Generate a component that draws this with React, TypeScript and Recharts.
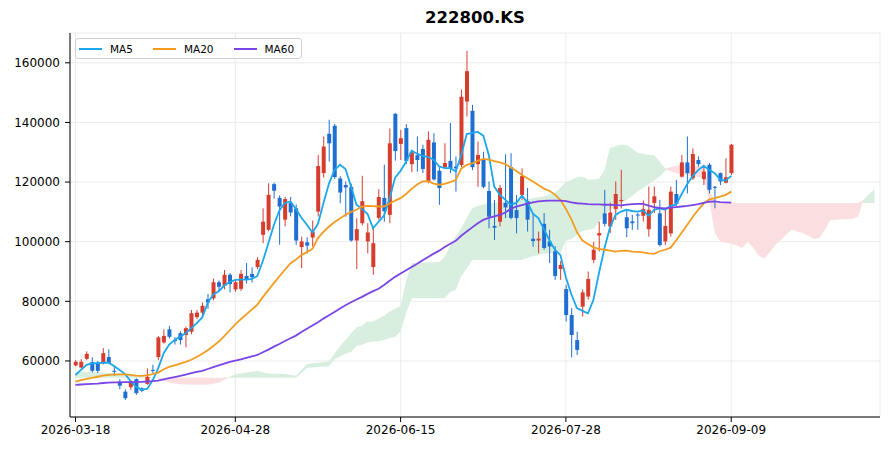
import React from 'react';
import { ComposedChart, Area, Bar, Line, XAxis, YAxis, CartesianGrid } from 'recharts';

const dateLabels = ['2026-03-18', '2026-04-28', '2026-06-15', '2026-07-28', '2026-09-09'];
const dateTickIdx = [0, 29, 59, 89, 119];
const priceTicks = [60000, 80000, 100000, 120000, 140000, 160000];

const opens = [
  58500, 57800, 60700, 59600, 59400, 59200, 61300, 56700, 53100, 49700,
  51200, 53900, 50800, 52300, 57000, 61300, 66200, 70600, 67000, 69300,
  68700, 69800, 74700, 76200, 80700, 81000, 86400, 85200, 88900, 84000,
  84200, 88500, 89200, 91500, 102300, 104000, 119300, 114700, 107400, 113000,
  111200, 98200, 99800, 101400, 110100, 123000, 136200, 138900, 121200, 119000,
  118400, 100400, 106200, 100100, 91500, 108000, 114700, 109000, 142900, 132800,
  138100, 126000, 129000, 131100, 120200, 133300, 123800, 125000, 127100, 125200,
  125700, 147000, 143900, 126000, 127400, 117000, 105300, 106700, 113000, 125000,
  110600, 115700, 113600, 101000, 100400, 106000, 100100, 96800, 90800, 84100,
  75400, 67000, 78200, 81600, 93900, 102100, 109500, 105100, 110900, 113600,
  108200, 106800, 109100, 108700, 104200, 113000, 109500, 100100, 102800, 116000,
  121800, 126600, 121300, 127400, 121000, 125800, 118400, 123000, 119800, 123000,
];
const highs = [
  60300, 60600, 63200, 61200, 60000, 64300, 63900, 58100, 53900, 50500,
  53500, 54200, 51200, 57500, 58700, 68400, 70600, 71700, 68000, 70000,
  71500, 77100, 77100, 79600, 82500, 87600, 87000, 90500, 89500, 87400,
  90500, 92800, 91400, 94800, 111200, 119600, 119800, 115500, 115000, 115000,
  112500, 101700, 101500, 107100, 129100, 135300, 140900, 139500, 122000, 120200,
  119500, 107900, 122100, 106200, 105100, 117600, 125800, 138000, 143100, 137500,
  139400, 130800, 135300, 132500, 137000, 136400, 125000, 133000, 139800, 128600,
  151000, 164000, 145900, 133600, 130200, 120200, 114000, 119000, 129300, 129700,
  115700, 124600, 118000, 109600, 103400, 109600, 104000, 98500, 93500, 85500,
  77700, 69800, 84000, 90000, 100000, 106700, 117400, 113100, 120200, 124100,
  110700, 109000, 109600, 113800, 118500, 118500, 114000, 111200, 118500, 120700,
  129100, 135300, 131300, 128600, 125800, 126400, 118700, 123200, 128000, 132800,
];
const lows = [
  58200, 57500, 60300, 56100, 56000, 58800, 59000, 55000, 50500, 46900,
  50300, 48600, 49500, 52000, 55900, 60300, 65800, 67500, 65500, 65500,
  64600, 69000, 74000, 74700, 77500, 80300, 83300, 84000, 83000, 83200,
  83500, 86000, 86300, 90800, 99500, 103500, 114500, 99000, 105100, 108500,
  98900, 91100, 96000, 98400, 108500, 121500, 126900, 121000, 112900, 108400,
  100000, 90800, 105500, 96100, 88900, 107300, 106700, 106200, 127200, 127400,
  126000, 123300, 123500, 123000, 119600, 120500, 112400, 124500, 123000, 116800,
  125000, 142000, 124000, 118400, 117900, 104500, 100600, 105100, 107900, 107500,
  102800, 114000, 103400, 98300, 96100, 97300, 92800, 87200, 87200, 73200,
  61200, 62000, 74900, 80600, 92800, 96700, 105100, 102900, 107300, 111200,
  101500, 104000, 104000, 106700, 101700, 109600, 98400, 98900, 101700, 112000,
  121500, 116200, 120700, 125200, 119000, 116200, 111200, 119000, 119600, 122400,
];
const closes = [
  59700, 59700, 62400, 56700, 56700, 62600, 59300, 56500, 51700, 47500,
  52700, 49200, 50000, 54700, 56800, 67900, 68400, 68100, 66600, 67000,
  71000, 76000, 76200, 78500, 79600, 86400, 84900, 88900, 85800, 86400,
  89200, 87200, 88100, 93900, 106700, 115700, 117100, 111800, 114300, 109800,
  100400, 100100, 98700, 103400, 125400, 131900, 133000, 121700, 116500, 118200,
  100400, 104200, 113600, 103100, 99500, 115000, 110200, 133000, 130400, 134700,
  127100, 130000, 127400, 124400, 134200, 120900, 118000, 126400, 124600, 124600,
  148600, 157200, 125000, 129100, 118400, 108400, 104700, 118000, 111500, 108000,
  107900, 122000, 107400, 100200, 101000, 97900, 98400, 88500, 92200, 75400,
  68700, 63700, 83000, 87500, 97300, 102900, 106000, 109800, 116000, 114000,
  104500, 106200, 109000, 111000, 110700, 115200, 98900, 105300, 116800, 112700,
  126600, 123000, 129400, 126000, 123500, 117400, 118200, 120200, 121600, 132500,
];

const ma5 = [
  55300, 57000, 58700, 59200, 59300, 59400, 59400, 58300, 57000, 55600,
  53200, 51300, 50400, 50600, 53500, 57500, 62600, 65500, 67000, 68200,
  69300, 71000, 72700, 74600, 79500, 82300, 83400, 85300, 86500, 87200,
  87300, 87300, 87500, 88500, 93500, 99500, 105600, 110500, 113000, 113500,
  111000, 108000, 105700, 103100, 106000, 113000, 119500, 124000, 125800, 124400,
  118500, 112400, 111000, 109300, 104500, 106700, 108800, 114500, 121500, 123800,
  126900, 130500, 129500, 128800, 128400, 127500, 125200, 124700, 124700, 123600,
  129000, 136100, 136500, 136800, 135600, 129100, 118500, 115800, 114000, 112400,
  113000, 115400, 113300, 109400, 107900, 104200, 100500, 97300, 95500, 88000,
  82300, 77700, 76800, 76000, 80500, 89500, 97800, 104800, 109000, 110100,
  110700, 110300, 110100, 110500, 108700, 110700, 111200, 110700, 112000, 112400,
  116000, 119300, 122000, 124000, 125400, 124100, 123000, 120800, 120500, 122100,
];
const ma20 = [
  53100, 53600, 54000, 54300, 54700, 55100, 55300, 55400, 55500, 55500,
  55300, 55100, 55000, 55200, 55600, 56100, 57200, 58000, 58500, 59100,
  59700, 60400, 61300, 62400, 63600, 65000, 66500, 68300, 70300, 72300,
  74000, 75600, 77200, 78900, 81400, 83800, 86100, 88400, 90600, 92700,
  94000, 95500, 96500, 97600, 101200, 103300, 105100, 106600, 107800, 109000,
  110000, 110700, 111800, 112000, 111900, 111800, 111800, 112800, 113800, 114600,
  116000, 117700, 119200, 120200, 120300, 119500, 119100, 119400, 120000, 120700,
  124500, 125800, 126300, 127100, 127800, 127500, 127000, 126600, 126000, 124900,
  123700, 122400, 121300, 120200, 119000, 117800, 117100, 115800, 114000, 111000,
  107500, 103200, 100400, 99200, 98100, 97600, 97300, 97000, 96700, 96900,
  97000, 96700, 96600, 96400, 96100, 95900, 96800, 97300, 98000, 100400,
  103000, 105600, 108300, 110700, 112800, 114200, 114600, 115100, 115700, 116800,
];
const ma60 = [
  52000, 52100, 52200, 52300, 52400, 52600, 52700, 52800, 52800, 52900,
  52900, 53000, 53000, 53100, 53200, 53400, 53800, 54200, 54600, 55000,
  55400, 55900, 56300, 56700, 57300, 57900, 58500, 59100, 59700, 60100,
  60500, 61000, 61500, 62000, 62900, 63800, 64800, 65700, 66700, 67600,
  68500, 69700, 70800, 71900, 73000, 74200, 75300, 76400, 77600, 78700,
  79700, 80600, 81500, 82500, 83400, 84200, 85500, 86900, 88200, 89300,
  90400, 91500, 92600, 93800, 94900, 96000, 97000, 98200, 99300, 100300,
  102000, 103400, 104800, 106200, 107300, 108000, 108500, 109000, 109800, 111000,
  111800, 112300, 112800, 113200, 113500, 113700, 113800, 113800, 113800, 113600,
  113200, 112900, 112800, 112600, 112500, 112500, 112400, 112400, 112300, 112200,
  112400, 112600, 112700, 112700, 112100, 111600, 111300, 111200, 111400, 111600,
  111800, 112000, 112300, 112600, 113000, 113400, 113500, 113300, 113200, 113100,
];

// leading span A / B, shifted 26 bars ahead of the last candle
const spanA = [
  56300, 56300, 56300, 56200, 56200, 56100, 56000, 55900, 55700, 55500,
  55300, 55100, 54900, 54700, 54500, 54200, 53400, 52800, 52400, 52200,
  52100, 52000, 52000, 52000, 52100, 52300, 52800, 53600, 54700, 55500,
  55800, 56100, 56400, 56600, 56200, 55800, 55700, 55700, 55600, 55400,
  55000, 57000, 59000, 59200, 59400, 59600, 59800, 62500, 65000, 67000,
  69200, 71300, 71800, 73200, 73200, 74200, 75200, 76500, 77500, 78500,
  87000, 92800, 92900, 93000, 93000, 93100, 93200, 95000, 98500, 101800,
  104500, 108000, 111200, 112000, 112500, 112800, 113000, 113200, 113400, 113500,
  113700, 114000, 114300, 114600, 114900, 115200, 115800, 116500, 118000, 120000,
  120800, 121500, 121900, 120800, 120900, 121100, 124000, 131500, 132000, 132500,
  132500, 131200, 129800, 129500, 129200, 129000, 127000, 124500, 123600, 123000,
  122600, 122300, 122000, 121700, 121400, 114000, 103000, 100000, 99700, 99300,
  98700, 97900, 100000, 98000, 95300, 94400, 96500, 98800, 100500, 102500,
  104000, 103400, 102900, 102000, 100900, 101200, 104000, 107300, 107400, 107500,
  107500, 107600, 108400, 114000, 116000, 117500,
];
const spanB = [
  54400, 54400, 54400, 54400, 54400, 54400, 54400, 54400, 54400, 54400,
  54400, 54400, 54400, 54400, 54400, 54400, 54400, 54400, 54400, 54400,
  54400, 54400, 54400, 54400, 54400, 54400, 54400, 54400, 54400, 54400,
  54400, 54400, 54400, 54400, 54400, 54400, 54400, 54400, 54400, 54400,
  54400, 56000, 57600, 57800, 58000, 58100, 58100, 60600, 61500, 62500,
  63000, 65000, 65400, 66200, 66500, 66600, 67000, 67700, 68000, 70000,
  76000, 81000, 81000, 81000, 81000, 81000, 81000, 81000, 83200, 83800,
  88500, 91000, 93900, 93900, 93900, 93900, 93900, 93900, 93900, 93900,
  93900, 93900, 94500, 95100, 95600, 96000, 96100, 96100, 96100, 100500,
  100800, 102300, 103500, 104000, 104300, 106500, 109000, 110700, 111800, 112700,
  114000, 115300, 116800, 118000, 119300, 120500, 121800, 123800, 125000, 125400,
  125600, 125400, 125400, 125400, 125400, 118000, 113000, 113000, 113000, 113000,
  113000, 113000, 113000, 113000, 113000, 113000, 113000, 113000, 113000, 113000,
  113000, 113000, 113000, 113000, 113000, 113000, 113000, 113000, 113000, 113000,
  113000, 113000, 113000, 113000, 113000, 113000,
];

const UP = '#d73d2f';
const DOWN = '#1f6fd2';
const FONT = '"DejaVu Sans", sans-serif';

const rows = spanA.map((a, i) => {
  const b = spanB[i];
  const top = Math.max(a, b);
  const row: any = { i, green: [b, top], red: [a, top] };
  if (i < closes.length) {
    row.open = opens[i];
    row.high = highs[i];
    row.low = lows[i];
    row.close = closes[i];
    row.candle = [lows[i], highs[i]];
    row.ma5 = ma5[i];
    row.ma20 = ma20[i];
    row.ma60 = ma60[i];
  }
  return row;
});

const Candle = (props: any) => {
  const { x, y, width, height } = props;
  const d = props.payload ?? props;
  if (d == null || d.high == null || x == null) return null;
  const top = Math.min(y, y + height);
  const h = Math.abs(height);
  const span = d.high - d.low || 1;
  const toY = (v: number) => top + ((d.high - v) / span) * h;
  const color = d.close >= d.open ? UP : DOWN;
  const cx = x + width / 2;
  const bTop = toY(Math.max(d.open, d.close));
  const bBot = toY(Math.min(d.open, d.close));
  return (
    <g>
      <line x1={cx} x2={cx} y1={top} y2={top + h} stroke={color} strokeWidth={1} />
      <rect x={cx - 2} y={bTop} width={4} height={Math.max(bBot - bTop, 1)} fill={color} />
    </g>
  );
};

const legendItems = [
  { name: 'MA5', color: '#1ba7ea' },
  { name: 'MA20', color: '#f39c1f' },
  { name: 'MA60', color: '#7a45e6' },
];

export default function App() {
  return (
    <div style={{ position: 'absolute', left: 0, top: 0, width: 891, height: 451, background: '#fff', fontFamily: FONT }}>
      <div style={{ position: 'absolute', left: 70, width: 810, top: 7, textAlign: 'center', fontSize: 16.5, fontWeight: 'bold', color: '#000', lineHeight: '22px' }}>
        222800.KS
      </div>
      <ComposedChart width={891} height={451} data={rows} margin={{ top: 33, right: 11, bottom: 0, left: 0 }}>
        <CartesianGrid stroke="#ececec" />
        <XAxis
          type="number"
          dataKey="i"
          domain={[-1, 146]}
          ticks={dateTickIdx}
          tickFormatter={(v: number) => dateLabels[dateTickIdx.indexOf(v)] ?? ''}
          allowDataOverflow
          height={34}
          tickSize={5}
          tickMargin={3}
          axisLine={{ stroke: '#000' }}
          tickLine={{ stroke: '#000' }}
          tick={{ fontSize: 12, fill: '#000', fontFamily: FONT }}
        />
        <YAxis
          type="number"
          domain={[41200, 170000]}
          ticks={priceTicks}
          allowDataOverflow
          width={70}
          tickSize={5}
          tickMargin={5}
          axisLine={{ stroke: '#000' }}
          tickLine={{ stroke: '#000' }}
          tick={{ fontSize: 12, fill: '#000', fontFamily: FONT }}
        />
        <Area dataKey="green" type="linear" stroke="none" fill="#d8eedf" fillOpacity={1} isAnimationActive={false} />
        <Area dataKey="red" type="linear" stroke="none" fill="#fbdfe0" fillOpacity={1} isAnimationActive={false} />
        <Bar dataKey="candle" barSize={4} shape={<Candle />} isAnimationActive={false} />
        <Line dataKey="ma5" type="linear" stroke="#1ba7ea" strokeWidth={1.8} dot={false} activeDot={false} isAnimationActive={false} />
        <Line dataKey="ma20" type="linear" stroke="#f39c1f" strokeWidth={1.8} dot={false} activeDot={false} isAnimationActive={false} />
        <Line dataKey="ma60" type="linear" stroke="#7a45e6" strokeWidth={1.8} dot={false} activeDot={false} isAnimationActive={false} />
      </ComposedChart>
      <div style={{ position: 'absolute', left: 75, top: 38, width: 225, height: 19, border: '1px solid #d0d0d0', borderRadius: 3, background: 'rgba(255,255,255,0.85)', display: 'flex', alignItems: 'center', fontSize: 10.5, color: '#000' }}>
        {legendItems.map((it, k) => (
          <div key={it.name} style={{ display: 'flex', alignItems: 'center', marginLeft: k === 0 ? 3 : 20 }}>
            <div style={{ width: 23, height: 2, background: it.color, marginRight: 8 }} />
            <span>{it.name}</span>
          </div>
        ))}
      </div>
    </div>
  );
}
